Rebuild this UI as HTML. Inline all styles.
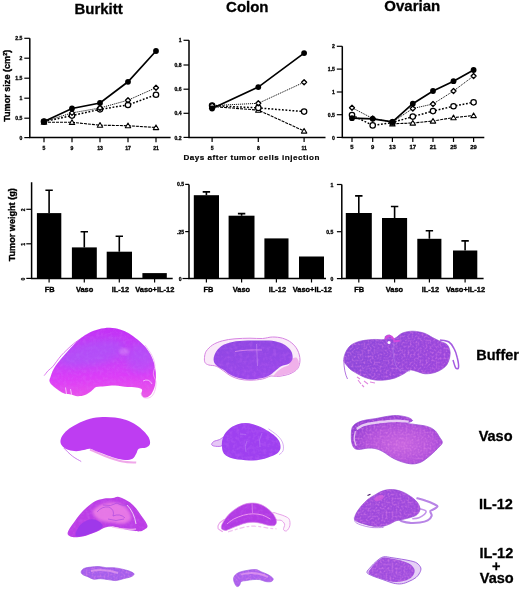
<!DOCTYPE html>
<html><head><meta charset="utf-8"><title>Figure</title>
<style>
html,body{margin:0;padding:0;background:#fff;}
body{width:520px;height:592px;overflow:hidden;position:relative;font-family:"Liberation Sans",sans-serif;}
svg{position:absolute;left:0;top:0;}
text{font-family:"Liberation Sans",sans-serif;font-weight:bold;fill:#000;}
.t{font-size:15px;stroke:#000;stroke-width:0.3px;}
.r{font-size:14.5px;stroke:#000;stroke-width:0.3px;}
.k{font-size:5.1px;stroke:#000;stroke-width:0.3px;}
.b{font-size:7.45px;stroke:#000;stroke-width:0.35px;}
.yl{font-size:9.1px;stroke:#000;stroke-width:0.35px;}
.ax{stroke:#000;stroke-width:1.5;fill:none;}
.tk{stroke:#000;stroke-width:1.2;fill:none;}
</style></head><body>
<svg width="520" height="592" viewBox="0 0 520 592">
<defs>
<filter id="bl" x="-10%" y="-10%" width="120%" height="120%"><feGaussianBlur stdDeviation="0.7"/></filter>
<filter id="bl2" x="-10%" y="-10%" width="120%" height="120%"><feGaussianBlur stdDeviation="1.6"/></filter>
<filter id="tb" x="-5%" y="-5%" width="110%" height="110%"><feGaussianBlur stdDeviation="0.35"/></filter>
</defs>
<rect width="520" height="592" fill="#fff"/>

<g filter="url(#tb)">
<text class="t" x="98.6" y="13.6" text-anchor="middle">Burkitt</text>
<text class="t" x="247.3" y="11.6" text-anchor="middle">Colon</text>
<text class="t" x="412.3" y="11" text-anchor="middle">Ovarian</text>
<path class="ax" d="M29.8 38.3V137.6H170.6"/>
<path class="tk" d="M29.8 38.3h-5.5"/>
<text class="k" x="22.4" y="40.4" text-anchor="end">2.5</text>
<path class="tk" d="M29.8 58.2h-5.5"/>
<text class="k" x="22.4" y="60.3" text-anchor="end">2</text>
<path class="tk" d="M29.8 78.2h-5.5"/>
<text class="k" x="22.4" y="80.3" text-anchor="end">1.5</text>
<path class="tk" d="M29.8 98.2h-5.5"/>
<text class="k" x="22.4" y="100.3" text-anchor="end">1</text>
<path class="tk" d="M29.8 118.2h-5.5"/>
<text class="k" x="22.4" y="120.3" text-anchor="end">0.5</text>
<path class="tk" d="M29.8 137.6h-5.5"/>
<text class="k" x="22.4" y="139.7" text-anchor="end">0</text>
<path class="tk" d="M44.0 137.6v4.6"/>
<text class="k" x="44.0" y="149.9" text-anchor="middle" style="font-size:5.1px">5</text>
<path class="tk" d="M72.0 137.6v4.6"/>
<text class="k" x="72.0" y="149.9" text-anchor="middle" style="font-size:5.1px">9</text>
<path class="tk" d="M100.0 137.6v4.6"/>
<text class="k" x="100.0" y="149.9" text-anchor="middle" style="font-size:5.1px">13</text>
<path class="tk" d="M128.0 137.6v4.6"/>
<text class="k" x="128.0" y="149.9" text-anchor="middle" style="font-size:5.1px">17</text>
<path class="tk" d="M156.0 137.6v4.6"/>
<text class="k" x="156.0" y="149.9" text-anchor="middle" style="font-size:5.1px">21</text>
<path d="M44.0 122.2L72.0 122.3L100.0 125.2L128.0 125.7L156.0 127.5" fill="none" stroke="#000" stroke-width="1.1" stroke-dasharray="3 1"/>
<path d="M44.0 121.6L72.0 115.6L100.0 109.3L128.0 105.0L156.0 94.7" fill="none" stroke="#000" stroke-width="1.5" stroke-dasharray="1.8 1.7"/>
<path d="M44.0 121.6L72.0 112.9L100.0 108.0L128.0 100.2L156.0 87.7" fill="none" stroke="#000" stroke-width="0.95" stroke-dasharray="1.1 0.9"/>
<path d="M44.0 121.6L72.0 108.5L100.0 103.0L128.0 81.8L156.0 51.0" fill="none" stroke="#000" stroke-width="1.7"/>
<path d="M44.0 119.6L46.7 124.3L41.3 124.3Z" fill="#fff" stroke="#000" stroke-width="1.1" stroke-linejoin="round"/>
<path d="M72.0 119.7L74.7 124.4L69.3 124.4Z" fill="#fff" stroke="#000" stroke-width="1.1" stroke-linejoin="round"/>
<path d="M100.0 122.6L102.7 127.3L97.3 127.3Z" fill="#fff" stroke="#000" stroke-width="1.1" stroke-linejoin="round"/>
<path d="M128.0 123.1L130.7 127.8L125.3 127.8Z" fill="#fff" stroke="#000" stroke-width="1.1" stroke-linejoin="round"/>
<path d="M156.0 124.9L158.7 129.6L153.3 129.6Z" fill="#fff" stroke="#000" stroke-width="1.1" stroke-linejoin="round"/>
<circle cx="44.0" cy="121.6" r="2.7" fill="#fff" stroke="#000" stroke-width="1.25"/>
<circle cx="72.0" cy="115.6" r="2.7" fill="#fff" stroke="#000" stroke-width="1.25"/>
<circle cx="100.0" cy="109.3" r="2.7" fill="#fff" stroke="#000" stroke-width="1.25"/>
<circle cx="128.0" cy="105.0" r="2.7" fill="#fff" stroke="#000" stroke-width="1.25"/>
<circle cx="156.0" cy="94.7" r="2.7" fill="#fff" stroke="#000" stroke-width="1.25"/>
<path d="M44.0 119.1L46.5 121.6L44.0 124.1L41.5 121.6Z" fill="#fff" stroke="#000" stroke-width="1.3" stroke-linejoin="round"/>
<path d="M72.0 110.4L74.5 112.9L72.0 115.4L69.5 112.9Z" fill="#fff" stroke="#000" stroke-width="1.3" stroke-linejoin="round"/>
<path d="M100.0 105.5L102.5 108.0L100.0 110.5L97.5 108.0Z" fill="#fff" stroke="#000" stroke-width="1.3" stroke-linejoin="round"/>
<path d="M128.0 97.7L130.5 100.2L128.0 102.7L125.5 100.2Z" fill="#fff" stroke="#000" stroke-width="1.3" stroke-linejoin="round"/>
<path d="M156.0 85.2L158.5 87.7L156.0 90.2L153.5 87.7Z" fill="#fff" stroke="#000" stroke-width="1.3" stroke-linejoin="round"/>
<circle cx="44.0" cy="121.6" r="2.9" fill="#000"/>
<circle cx="72.0" cy="108.5" r="2.9" fill="#000"/>
<circle cx="100.0" cy="103.0" r="2.9" fill="#000"/>
<circle cx="128.0" cy="81.8" r="2.9" fill="#000"/>
<circle cx="156.0" cy="51.0" r="2.9" fill="#000"/>
<text transform="translate(10,85.8) rotate(-90)" text-anchor="middle" class="yl">Tumor size (cm<tspan dy="-3" style="font-size:5.5px">2</tspan><tspan dy="3">)</tspan></text>
<path class="ax" d="M189.0 40.3V137.4H325.5"/>
<path class="tk" d="M189.0 40.3h-5.5"/>
<text class="k" x="181.6" y="42.4" text-anchor="end">1</text>
<path class="tk" d="M189.0 65.0h-5.5"/>
<text class="k" x="181.6" y="67.1" text-anchor="end">0.8</text>
<path class="tk" d="M189.0 89.2h-5.5"/>
<text class="k" x="181.6" y="91.3" text-anchor="end">0.6</text>
<path class="tk" d="M189.0 113.3h-5.5"/>
<text class="k" x="181.6" y="115.4" text-anchor="end">0.4</text>
<path class="tk" d="M189.0 137.4h-5.5"/>
<text class="k" x="181.6" y="139.5" text-anchor="end">0.2</text>
<path class="tk" d="M212.1 137.4v4.6"/>
<text class="k" x="212.1" y="149.7" text-anchor="middle" style="font-size:5.1px">5</text>
<path class="tk" d="M258.3 137.4v4.6"/>
<text class="k" x="258.3" y="149.7" text-anchor="middle" style="font-size:5.1px">8</text>
<path class="tk" d="M304.1 137.4v4.6"/>
<text class="k" x="304.1" y="149.7" text-anchor="middle" style="font-size:5.1px">11</text>
<path d="M212.1 106.5L258.3 110.1L304.1 131.0" fill="none" stroke="#000" stroke-width="1.1" stroke-dasharray="3 1"/>
<path d="M212.1 105.6L258.3 107.9L304.1 111.6" fill="none" stroke="#000" stroke-width="1.5" stroke-dasharray="1.8 1.7"/>
<path d="M212.1 105.6L258.3 103.3L304.1 82.2" fill="none" stroke="#000" stroke-width="0.95" stroke-dasharray="1.1 0.9"/>
<path d="M212.1 108.5L258.3 87.1L304.1 53.1" fill="none" stroke="#000" stroke-width="1.7"/>
<path d="M212.1 103.9L214.8 108.6L209.4 108.6Z" fill="#fff" stroke="#000" stroke-width="1.1" stroke-linejoin="round"/>
<path d="M258.3 107.5L261.0 112.2L255.6 112.2Z" fill="#fff" stroke="#000" stroke-width="1.1" stroke-linejoin="round"/>
<path d="M304.1 128.4L306.8 133.1L301.4 133.1Z" fill="#fff" stroke="#000" stroke-width="1.1" stroke-linejoin="round"/>
<circle cx="212.1" cy="105.6" r="2.7" fill="#fff" stroke="#000" stroke-width="1.25"/>
<circle cx="258.3" cy="107.9" r="2.7" fill="#fff" stroke="#000" stroke-width="1.25"/>
<circle cx="304.1" cy="111.6" r="2.7" fill="#fff" stroke="#000" stroke-width="1.25"/>
<path d="M212.1 103.1L214.6 105.6L212.1 108.1L209.6 105.6Z" fill="#fff" stroke="#000" stroke-width="1.3" stroke-linejoin="round"/>
<path d="M258.3 100.8L260.8 103.3L258.3 105.8L255.8 103.3Z" fill="#fff" stroke="#000" stroke-width="1.3" stroke-linejoin="round"/>
<path d="M304.1 79.7L306.6 82.2L304.1 84.7L301.6 82.2Z" fill="#fff" stroke="#000" stroke-width="1.3" stroke-linejoin="round"/>
<circle cx="212.1" cy="108.5" r="2.9" fill="#000"/>
<circle cx="258.3" cy="87.1" r="2.9" fill="#000"/>
<circle cx="304.1" cy="53.1" r="2.9" fill="#000"/>
<text x="183.4" y="159.7" textLength="136" lengthAdjust="spacing" style="font-size:8.1px;stroke:#000;stroke-width:0.2px">Days after tumor cells injection</text>
<path class="ax" d="M342.3 46.3V137.4H484.3"/>
<path class="tk" d="M342.3 46.3h-5.5"/>
<text class="k" x="334.9" y="48.4" text-anchor="end">2</text>
<path class="tk" d="M342.3 69.1h-5.5"/>
<text class="k" x="334.9" y="71.2" text-anchor="end">1.5</text>
<path class="tk" d="M342.3 92.0h-5.5"/>
<text class="k" x="334.9" y="94.1" text-anchor="end">1</text>
<path class="tk" d="M342.3 114.7h-5.5"/>
<text class="k" x="334.9" y="116.8" text-anchor="end">0.5</text>
<path class="tk" d="M342.3 137.4h-5.5"/>
<text class="k" x="334.9" y="139.5" text-anchor="end">0</text>
<path class="tk" d="M352.0 137.4v4.6"/>
<text class="k" x="352.0" y="149.3" text-anchor="middle" style="font-size:5.9px">5</text>
<path class="tk" d="M372.7 137.4v4.6"/>
<text class="k" x="372.7" y="149.3" text-anchor="middle" style="font-size:5.9px">9</text>
<path class="tk" d="M392.4 137.4v4.6"/>
<text class="k" x="392.4" y="149.3" text-anchor="middle" style="font-size:5.9px">13</text>
<path class="tk" d="M412.8 137.4v4.6"/>
<text class="k" x="412.8" y="149.3" text-anchor="middle" style="font-size:5.9px">17</text>
<path class="tk" d="M433.0 137.4v4.6"/>
<text class="k" x="433.0" y="149.3" text-anchor="middle" style="font-size:5.9px">21</text>
<path class="tk" d="M453.5 137.4v4.6"/>
<text class="k" x="453.5" y="149.3" text-anchor="middle" style="font-size:5.9px">25</text>
<path class="tk" d="M473.6 137.4v4.6"/>
<text class="k" x="473.6" y="149.3" text-anchor="middle" style="font-size:5.9px">29</text>
<path d="M392.4 123.8L412.8 123.0L433.0 121.0L453.5 117.6L473.6 115.5" fill="none" stroke="#000" stroke-width="1.1" stroke-dasharray="3 1"/>
<path d="M352.0 115.1L372.7 125.4L392.4 122.5L412.8 116.6L433.0 111.1L453.5 106.2L473.6 102.3" fill="none" stroke="#000" stroke-width="1.5" stroke-dasharray="1.8 1.7"/>
<path d="M352.0 107.7L372.7 118.5L392.4 122.0L412.8 108.5L433.0 104.0L453.5 91.0L473.6 76.0" fill="none" stroke="#000" stroke-width="0.95" stroke-dasharray="1.1 0.9"/>
<path d="M352.0 118.2L372.7 118.8L392.4 121.8L412.8 103.7L433.0 91.0L453.5 81.2L473.6 70.0" fill="none" stroke="#000" stroke-width="1.7"/>
<path d="M392.4 121.2L395.1 125.9L389.7 125.9Z" fill="#fff" stroke="#000" stroke-width="1.1" stroke-linejoin="round"/>
<path d="M412.8 120.4L415.5 125.1L410.1 125.1Z" fill="#fff" stroke="#000" stroke-width="1.1" stroke-linejoin="round"/>
<path d="M433.0 118.4L435.7 123.1L430.3 123.1Z" fill="#fff" stroke="#000" stroke-width="1.1" stroke-linejoin="round"/>
<path d="M453.5 115.0L456.2 119.7L450.8 119.7Z" fill="#fff" stroke="#000" stroke-width="1.1" stroke-linejoin="round"/>
<path d="M473.6 112.9L476.3 117.6L470.9 117.6Z" fill="#fff" stroke="#000" stroke-width="1.1" stroke-linejoin="round"/>
<circle cx="352.0" cy="115.1" r="2.7" fill="#fff" stroke="#000" stroke-width="1.25"/>
<circle cx="372.7" cy="125.4" r="2.7" fill="#fff" stroke="#000" stroke-width="1.25"/>
<circle cx="392.4" cy="122.5" r="2.7" fill="#fff" stroke="#000" stroke-width="1.25"/>
<circle cx="412.8" cy="116.6" r="2.7" fill="#fff" stroke="#000" stroke-width="1.25"/>
<circle cx="433.0" cy="111.1" r="2.7" fill="#fff" stroke="#000" stroke-width="1.25"/>
<circle cx="453.5" cy="106.2" r="2.7" fill="#fff" stroke="#000" stroke-width="1.25"/>
<circle cx="473.6" cy="102.3" r="2.7" fill="#fff" stroke="#000" stroke-width="1.25"/>
<path d="M352.0 105.2L354.5 107.7L352.0 110.2L349.5 107.7Z" fill="#fff" stroke="#000" stroke-width="1.3" stroke-linejoin="round"/>
<path d="M372.7 116.0L375.2 118.5L372.7 121.0L370.2 118.5Z" fill="#fff" stroke="#000" stroke-width="1.3" stroke-linejoin="round"/>
<path d="M392.4 119.5L394.9 122.0L392.4 124.5L389.9 122.0Z" fill="#fff" stroke="#000" stroke-width="1.3" stroke-linejoin="round"/>
<path d="M412.8 106.0L415.3 108.5L412.8 111.0L410.3 108.5Z" fill="#fff" stroke="#000" stroke-width="1.3" stroke-linejoin="round"/>
<path d="M433.0 101.5L435.5 104.0L433.0 106.5L430.5 104.0Z" fill="#fff" stroke="#000" stroke-width="1.3" stroke-linejoin="round"/>
<path d="M453.5 88.5L456.0 91.0L453.5 93.5L451.0 91.0Z" fill="#fff" stroke="#000" stroke-width="1.3" stroke-linejoin="round"/>
<path d="M473.6 73.5L476.1 76.0L473.6 78.5L471.1 76.0Z" fill="#fff" stroke="#000" stroke-width="1.3" stroke-linejoin="round"/>
<circle cx="352.0" cy="118.2" r="2.9" fill="#000"/>
<circle cx="372.7" cy="118.8" r="2.9" fill="#000"/>
<circle cx="392.4" cy="121.8" r="2.9" fill="#000"/>
<circle cx="412.8" cy="103.7" r="2.9" fill="#000"/>
<circle cx="433.0" cy="91.0" r="2.9" fill="#000"/>
<circle cx="453.5" cy="81.2" r="2.9" fill="#000"/>
<circle cx="473.6" cy="70.0" r="2.9" fill="#000"/>
<rect x="36.9" y="213.1" width="24.4" height="65.3" fill="#000"/>
<path d="M49.1 213.1V189.8M45.4 190.2h7.4" stroke="#000" stroke-width="1.6" fill="none"/>
<path class="tk" d="M49.1 278.4v4"/>
<rect x="71.9" y="247.4" width="24.9" height="31.0" fill="#000"/>
<path d="M84.3 247.4V231.3M80.6 231.7h7.4" stroke="#000" stroke-width="1.6" fill="none"/>
<path class="tk" d="M84.3 278.4v4"/>
<rect x="106.7" y="251.7" width="25.3" height="26.7" fill="#000"/>
<path d="M119.3 251.7V235.8M115.6 236.2h7.4" stroke="#000" stroke-width="1.6" fill="none"/>
<path class="tk" d="M119.3 278.4v4"/>
<rect x="142.4" y="273.1" width="24.4" height="5.3" fill="#000"/>
<path class="tk" d="M154.6 278.4v4"/>
<path class="ax" d="M31.6 182.3V278.4H172.7"/>
<path class="tk" d="M31.6 209.3h-5.3"/>
<text class="k" transform="translate(24.6,209.9) rotate(-90)" text-anchor="middle">2</text>
<path class="tk" d="M31.6 243.8h-5.3"/>
<text class="k" transform="translate(24.6,244.4) rotate(-90)" text-anchor="middle">1</text>
<path class="tk" d="M31.6 278.4h-5.3"/>
<text class="k" transform="translate(24.6,279.0) rotate(-90)" text-anchor="middle">0</text>
<text class="b" x="49.8" y="292.3" text-anchor="middle">FB</text>
<text class="b" x="84.6" y="292.3" text-anchor="middle">Vaso</text>
<text class="b" x="120.4" y="292.3" text-anchor="middle">IL-12</text>
<text class="b" x="154.8" y="292.3" text-anchor="middle">Vaso+IL-12</text>
<text transform="translate(15,224.8) rotate(-90)" text-anchor="middle" class="yl">Tumor weight (g)</text>
<rect x="193.8" y="195.2" width="25.2" height="83.3" fill="#000"/>
<path d="M206.4 195.2V191.5M202.7 191.9h7.4" stroke="#000" stroke-width="1.6" fill="none"/>
<path class="tk" d="M206.4 278.5v4"/>
<rect x="228.6" y="215.7" width="25.9" height="62.8" fill="#000"/>
<path d="M241.6 215.7V213.2M237.9 213.6h7.4" stroke="#000" stroke-width="1.6" fill="none"/>
<path class="tk" d="M241.6 278.5v4"/>
<rect x="264.4" y="238.4" width="24.1" height="40.1" fill="#000"/>
<path class="tk" d="M276.4 278.5v4"/>
<rect x="299.0" y="256.5" width="25.0" height="22.0" fill="#000"/>
<path class="tk" d="M311.5 278.5v4"/>
<path class="ax" d="M189.0 184.4V278.5H326.0"/>
<path class="tk" d="M189.0 184.4h-3.8"/>
<text class="k" x="184.2" y="186.4" text-anchor="end">0.5</text>
<path class="tk" d="M189.0 231.6h-3.8"/>
<text class="k" x="184.2" y="233.6" text-anchor="end">.25</text>
<text class="b" x="208.5" y="291.8" text-anchor="middle">FB</text>
<text class="b" x="241.4" y="291.8" text-anchor="middle">Vaso</text>
<text class="b" x="277.4" y="291.8" text-anchor="middle">IL-12</text>
<text class="b" x="312.3" y="291.8" text-anchor="middle">Vaso+IL-12</text>
<rect x="345.8" y="213.0" width="26.0" height="65.6" fill="#000"/>
<path d="M358.8 213.0V195.5M355.1 195.9h7.4" stroke="#000" stroke-width="1.6" fill="none"/>
<path class="tk" d="M358.8 278.6v4"/>
<rect x="382.0" y="218.0" width="25.1" height="60.6" fill="#000"/>
<path d="M394.6 218.0V206.1M390.9 206.5h7.4" stroke="#000" stroke-width="1.6" fill="none"/>
<path class="tk" d="M394.6 278.6v4"/>
<rect x="417.3" y="238.8" width="24.1" height="39.8" fill="#000"/>
<path d="M429.4 238.8V230.4M425.7 230.8h7.4" stroke="#000" stroke-width="1.6" fill="none"/>
<path class="tk" d="M429.4 278.6v4"/>
<rect x="453.0" y="250.5" width="24.3" height="28.1" fill="#000"/>
<path d="M465.1 250.5V240.5M461.4 240.9h7.4" stroke="#000" stroke-width="1.6" fill="none"/>
<path class="tk" d="M465.1 278.6v4"/>
<path class="ax" d="M341.8 184.5V278.6H483.6"/>
<path class="tk" d="M341.8 184.5h-4.9"/>
<text class="k" x="333.3" y="186.5" text-anchor="end">1</text>
<path class="tk" d="M341.8 231.7h-4.9"/>
<text class="k" x="333.3" y="233.7" text-anchor="end">0.5</text>
<path class="tk" d="M341.8 278.6h-4.9"/>
<text class="k" x="333.3" y="280.6" text-anchor="end">0</text>
<text class="b" x="359.1" y="292.2" text-anchor="middle">FB</text>
<text class="b" x="394.4" y="292.2" text-anchor="middle">Vaso</text>
<text class="b" x="430.4" y="292.2" text-anchor="middle">IL-12</text>
<text class="b" x="465.6" y="292.2" text-anchor="middle">Vaso+IL-12</text>
<path class="tk" d="M189 278.5h-6.5"/><text class="k" x="181.5" y="280.5" text-anchor="end">0</text>
<text class="r" x="497.6" y="360.1" text-anchor="middle" style="font-size:14.5px">Buffer</text>
<text class="r" x="495.6" y="440.9" text-anchor="middle">Vaso</text>
<text class="r" x="496" y="508.7" text-anchor="middle">IL-12</text>
<text class="r" x="496.3" y="557.5" text-anchor="middle">IL-12</text>
<text class="r" x="496.2" y="571.2" text-anchor="middle" style="font-size:14.5px">+</text>
<text class="r" x="496.7" y="583.3" text-anchor="middle">Vaso</text>
</g>
<defs>
<linearGradient id="g1" x1="0.4" y1="0" x2="0.5" y2="1"><stop offset="0" stop-color="#c430f6"/><stop offset="0.45" stop-color="#c840f8"/><stop offset="0.7" stop-color="#dc3cf8"/><stop offset="1" stop-color="#ea54e8"/></linearGradient>
<filter id="bl5" x="-30%" y="-50%" width="160%" height="200%"><feGaussianBlur stdDeviation="4"/></filter>
<linearGradient id="g2" x1="0" y1="0" x2="0.2" y2="1"><stop offset="0" stop-color="#8e46e2"/><stop offset="1" stop-color="#9a46ea"/></linearGradient>
<linearGradient id="g3" x1="0" y1="0" x2="1" y2="0.2"><stop offset="0" stop-color="#8c48da"/><stop offset="1" stop-color="#9a46dc"/></linearGradient>
<linearGradient id="g7" x1="0.1" y1="1" x2="0.7" y2="0"><stop offset="0" stop-color="#a83cea"/><stop offset="0.35" stop-color="#c050e8"/><stop offset="0.7" stop-color="#d870e6"/><stop offset="1" stop-color="#c860e6"/></linearGradient>
<filter id="tx" x="-5%" y="-5%" width="110%" height="110%" color-interpolation-filters="sRGB"><feTurbulence type="fractalNoise" baseFrequency="0.5" numOctaves="2" seed="4" result="n"/><feColorMatrix in="n" type="matrix" values="0 0 0 0 0.92  0 0 0 0 0.55  0 0 0 0 0.92  0 0 0 1.2 -0.5" result="pn0"/><feGaussianBlur in="pn0" stdDeviation="0.5" result="pn"/><feComposite in="pn" in2="SourceGraphic" operator="in" result="pni"/><feMerge><feMergeNode in="SourceGraphic"/><feMergeNode in="pni"/></feMerge></filter>
<filter id="tx2" x="-5%" y="-5%" width="110%" height="110%" color-interpolation-filters="sRGB"><feTurbulence type="fractalNoise" baseFrequency="0.3" numOctaves="2" seed="9" result="n"/><feColorMatrix in="n" type="matrix" values="0 0 0 0 0.85  0 0 0 0 0.5  0 0 0 0 0.98  0 0 0 0.5 -0.2" result="pn"/><feGaussianBlur in="pn" stdDeviation="0.5" result="pnb"/><feComposite in="pnb" in2="SourceGraphic" operator="in" result="pni"/><feMerge><feMergeNode in="SourceGraphic"/><feMergeNode in="pni"/></feMerge></filter>
</defs>
<clipPath id="c1"><path d="M50.5 377.0C51.2 374.9 52.0 371.8 53.8 368.8C55.5 365.7 58.5 362.1 61.2 358.8C64.0 355.4 67.1 351.9 70.0 348.8C72.9 345.6 75.6 342.6 78.8 340.0C81.9 337.4 85.4 334.8 88.8 333.0C92.1 331.2 95.2 330.1 98.8 329.2C102.3 328.4 106.5 327.7 110.0 327.8C113.5 327.8 116.9 328.6 120.0 329.5C123.1 330.4 125.8 331.6 128.8 333.2C131.7 334.9 134.8 337.3 137.5 339.5C140.2 341.7 142.8 344.0 145.0 346.5C147.2 349.0 149.0 351.8 150.5 354.5C152.0 357.2 153.1 360.0 154.0 363.0C154.9 366.0 155.5 369.5 155.8 372.5C156.0 375.5 156.0 378.5 155.8 381.2C155.5 384.0 154.9 386.5 154.0 388.8C153.1 391.0 152.0 393.5 150.5 395.0C149.0 396.5 146.5 397.8 145.0 397.8C143.5 397.7 141.8 395.9 141.2 394.5C140.8 393.1 142.8 390.7 142.0 389.5C141.2 388.3 138.7 387.9 136.2 387.5C133.8 387.1 131.0 387.3 127.5 387.0C124.0 386.7 118.8 385.6 115.0 385.5C111.2 385.4 108.1 386.0 105.0 386.2C101.9 386.5 98.5 386.2 96.2 387.0C94.0 387.8 93.1 389.9 91.2 391.2C89.4 392.6 87.3 394.2 85.0 395.0C82.7 395.8 79.8 396.3 77.5 396.2C75.2 396.2 73.3 394.9 71.2 394.5C69.2 394.1 67.1 394.4 65.0 393.8C62.9 393.1 60.8 391.9 58.8 390.5C56.7 389.1 54.0 387.0 52.5 385.5C51.0 384.0 49.8 382.7 49.5 381.2C49.2 379.8 49.8 379.1 50.5 377.0Z"/></clipPath>
<g filter="url(#bl)">
<path d="M44.2 375.6C44.9 374.8 46.7 372.2 48.1 370.7C49.5 369.2 51.3 368.2 52.8 366.6C54.2 365.0 55.3 363.1 56.8 361.2C58.2 359.3 59.8 357.1 61.5 355.2C63.2 353.3 64.9 351.7 66.9 349.8C68.9 347.9 71.3 345.5 73.6 343.7C75.8 341.9 78.3 340.2 80.4 338.8C82.5 337.4 85.1 335.6 86.0 335.0" fill="none" stroke="#d868ee" stroke-width="0.9"/>
<g filter="url(#tx2)"><path d="M50.5 377.0C51.2 374.9 52.0 371.8 53.8 368.8C55.5 365.7 58.5 362.1 61.2 358.8C64.0 355.4 67.1 351.9 70.0 348.8C72.9 345.6 75.6 342.6 78.8 340.0C81.9 337.4 85.4 334.8 88.8 333.0C92.1 331.2 95.2 330.1 98.8 329.2C102.3 328.4 106.5 327.7 110.0 327.8C113.5 327.8 116.9 328.6 120.0 329.5C123.1 330.4 125.8 331.6 128.8 333.2C131.7 334.9 134.8 337.3 137.5 339.5C140.2 341.7 142.8 344.0 145.0 346.5C147.2 349.0 149.0 351.8 150.5 354.5C152.0 357.2 153.1 360.0 154.0 363.0C154.9 366.0 155.5 369.5 155.8 372.5C156.0 375.5 156.0 378.5 155.8 381.2C155.5 384.0 154.9 386.5 154.0 388.8C153.1 391.0 152.0 393.5 150.5 395.0C149.0 396.5 146.5 397.8 145.0 397.8C143.5 397.7 141.8 395.9 141.2 394.5C140.8 393.1 142.8 390.7 142.0 389.5C141.2 388.3 138.7 387.9 136.2 387.5C133.8 387.1 131.0 387.3 127.5 387.0C124.0 386.7 118.8 385.6 115.0 385.5C111.2 385.4 108.1 386.0 105.0 386.2C101.9 386.5 98.5 386.2 96.2 387.0C94.0 387.8 93.1 389.9 91.2 391.2C89.4 392.6 87.3 394.2 85.0 395.0C82.7 395.8 79.8 396.3 77.5 396.2C75.2 396.2 73.3 394.9 71.2 394.5C69.2 394.1 67.1 394.4 65.0 393.8C62.9 393.1 60.8 391.9 58.8 390.5C56.7 389.1 54.0 387.0 52.5 385.5C51.0 384.0 49.8 382.7 49.5 381.2C49.2 379.8 49.8 379.1 50.5 377.0Z" fill="url(#g1)"/></g>
<g clip-path="url(#c1)"><ellipse cx="92" cy="353" rx="34" ry="12" transform="rotate(-12 92 353)" fill="#a060f8" opacity="0.5" filter="url(#bl5)"/>
<ellipse cx="141" cy="358" rx="15" ry="15" fill="#a060f8" opacity="0.42" filter="url(#bl5)"/>
<ellipse cx="124" cy="351.5" rx="5" ry="3.5" fill="#f0c0fa" opacity="0.3" filter="url(#bl2)"/></g>
<path d="M65.5 387.5L66.5 394M70.5 389L71.5 394.5" stroke="#fff" stroke-width="0.8" opacity="0.8"/>
<path d="M145.1 345.1C146.2 346.8 150.2 351.8 151.8 355.2C153.5 358.6 154.7 362.1 154.9 365.3C155.2 368.4 153.1 371.2 153.3 374.0C153.5 376.8 155.8 379.2 156.0 382.1C156.2 385.0 155.6 389.0 154.6 391.5C153.7 394.1 152.0 396.5 150.1 397.4C148.2 398.4 144.8 398.2 143.3 397.4C141.8 396.7 141.4 393.9 141.0 393.1" stroke="#f0b0f0" stroke-width="0.8" fill="none" opacity="0.9"/>
<path d="M143 381Q149 378 152 384" stroke="#fff" stroke-width="0.8" opacity="0.7" fill="none"/>
</g>
<g filter="url(#bl)">
<path d="M204.5 357.5C204.7 355.6 204.9 353.3 206.2 351.2C207.6 349.2 209.8 346.8 212.5 345.0C215.2 343.2 218.8 341.8 222.5 340.8C226.2 339.7 230.4 339.2 235.0 338.8C239.6 338.3 245.4 338.3 250.0 338.2C254.6 338.2 258.8 338.7 262.5 338.5C266.2 338.3 269.2 337.0 272.5 337.0C275.8 337.0 279.4 337.3 282.5 338.2C285.6 339.2 288.8 340.5 291.2 342.5C293.8 344.5 296.0 347.1 297.5 350.0C299.0 352.9 300.0 356.9 300.0 360.0C300.0 363.1 299.2 366.5 297.5 368.8C295.8 371.0 292.9 372.5 290.0 373.8C287.1 375.0 282.7 375.8 280.0 376.2C277.3 376.7 275.4 376.2 273.8 376.2C272.1 376.2 271.9 375.8 270.0 376.2C268.1 376.7 265.8 378.3 262.5 379.0C259.2 379.7 254.0 380.2 250.0 380.2C246.0 380.2 242.1 379.8 238.8 379.0C235.4 378.2 232.5 376.8 230.0 375.5C227.5 374.2 226.0 372.5 223.8 371.0C221.5 369.5 218.8 367.2 216.2 366.2C213.8 365.2 210.6 365.6 208.8 365.0C206.9 364.4 205.7 363.8 205.0 362.5C204.3 361.2 204.3 359.4 204.5 357.5Z" fill="#faeaf9" stroke="#d684e2" stroke-width="1"/>
<path d="M290.0 360.0C291.2 358.8 294.8 356.9 296.2 357.5C297.8 358.1 299.0 361.7 299.0 363.8C299.0 365.8 298.0 368.4 296.2 370.0C294.5 371.6 291.7 372.5 288.8 373.5C285.8 374.5 281.2 375.6 278.8 376.0C276.2 376.4 274.0 376.8 273.8 376.0C273.5 375.2 276.0 372.7 277.5 371.2C279.0 369.8 281.1 368.5 283.0 367.5C284.9 366.5 287.6 366.2 288.8 365.0C289.9 363.8 288.8 361.2 290.0 360.0Z" fill="#f0b0ea"/>
<g filter="url(#tx2)"><path d="M213.8 361.2C213.3 359.2 213.8 356.2 215.0 353.8C216.2 351.2 218.3 348.2 221.2 346.2C224.2 344.3 228.1 342.9 232.5 342.0C236.9 341.1 242.5 340.9 247.5 340.6C252.5 340.4 257.9 340.5 262.5 340.6C267.1 340.7 271.2 340.5 275.0 341.2C278.8 342.0 282.3 343.3 285.0 345.0C287.7 346.7 290.0 349.0 291.2 351.2C292.5 353.5 292.9 356.7 292.5 358.8C292.1 360.8 290.6 362.5 288.8 363.8C286.9 365.0 283.3 365.2 281.2 366.2C279.2 367.3 278.1 368.5 276.2 370.0C274.4 371.5 272.3 373.7 270.0 375.0C267.7 376.3 265.8 377.2 262.5 378.0C259.2 378.8 254.0 379.5 250.0 379.5C246.0 379.5 242.1 378.8 238.8 378.0C235.4 377.2 232.5 375.8 230.0 374.5C227.5 373.2 225.8 371.4 223.8 370.0C221.7 368.6 219.2 367.7 217.5 366.2C215.8 364.8 214.2 363.3 213.8 361.2Z" fill="url(#g2)"/></g>
<path d="M235 351.5Q246 349.5 262 350" stroke="#e090ee" stroke-width="0.8" fill="none"/>
<path d="M256.5 344L257.5 366" stroke="#c88cf0" stroke-width="0.6" fill="none"/>
</g>
<g filter="url(#bl)">
<path d="M343.8 360Q344 372 347.5 379" stroke="#a050d8" stroke-width="0.8" fill="none"/>
<path d="M440.0 340.0C441.5 340.3 446.6 340.5 449.0 342.0C451.4 343.5 452.9 346.2 454.2 348.8C455.6 351.3 456.5 354.4 457.2 357.5C458.0 360.6 458.8 365.8 458.5 367.5C458.2 369.2 456.7 369.2 455.8 368.0C454.8 366.8 453.5 361.3 453.0 360.0" stroke="#a45ae0" stroke-width="1.5" fill="none"/>
<g filter="url(#tx)"><path d="M343.8 360.0C343.5 357.5 345.0 353.8 346.2 351.2C347.5 348.8 349.0 346.7 351.2 345.0C353.5 343.3 356.5 342.2 360.0 341.2C363.5 340.3 368.5 339.8 372.5 339.5C376.5 339.2 381.6 340.0 383.8 339.5C385.9 339.0 384.5 337.0 385.5 336.2C386.5 335.5 388.8 334.6 390.0 335.0C391.2 335.4 391.5 338.3 392.5 338.8C393.5 339.2 394.6 338.5 396.2 337.5C397.9 336.5 399.8 334.0 402.5 333.0C405.2 332.0 409.0 331.2 412.5 331.2C416.0 331.2 420.4 332.0 423.8 333.0C427.1 334.0 429.8 336.1 432.5 337.5C435.2 338.9 437.6 340.1 440.0 341.2C442.4 342.4 445.3 342.8 447.0 344.5C448.7 346.2 449.6 349.0 450.0 351.2C450.4 353.5 450.0 355.8 449.5 358.0C449.0 360.2 448.2 362.7 447.0 364.5C445.8 366.3 444.5 367.4 442.5 368.8C440.5 370.1 437.9 371.7 435.0 372.5C432.1 373.3 428.1 374.0 425.0 373.8C421.9 373.5 418.8 371.9 416.2 371.2C413.8 370.6 412.1 369.6 410.0 370.0C407.9 370.4 406.2 372.4 403.8 373.8C401.2 375.1 398.1 377.0 395.0 378.0C391.9 379.0 388.3 379.7 385.0 380.0C381.7 380.3 378.3 380.4 375.0 380.0C371.7 379.6 367.9 378.5 365.0 377.5C362.1 376.5 359.8 375.0 357.5 373.8C355.2 372.5 352.9 371.2 351.2 370.0C349.6 368.8 348.8 367.9 347.5 366.2C346.2 364.6 344.0 362.5 343.8 360.0Z" fill="url(#g3)" stroke="#8a40cc" stroke-width="0.6"/></g>
<path d="M394.5 340Q391 352 396 366Q400 372 410 371" stroke="#b478e8" stroke-width="0.8" fill="none" opacity="0.8"/>
<path d="M385.8 338.5Q388 334.5 391.5 336.5Q394 339 394.5 341.5L399 340.8" stroke="#d448de" stroke-width="1.9" fill="none" stroke-linecap="round"/>
<circle cx="389" cy="342.5" r="1.5" fill="#fff"/>
<path d="M358 380l3 4m3 -3l4 3m-6 1l2 2m6 -5l5 1m-15 -4l-3 -2" stroke="#e088e0" stroke-width="1.1" fill="none"/>
</g>
<g filter="url(#bl)">
<path d="M90.0 449.5C92.5 450.6 99.6 454.0 105.0 456.0C110.4 458.0 117.3 460.4 122.5 461.5C127.7 462.6 134.0 462.3 136.2 462.5" fill="none" stroke="#f0a8ea" stroke-width="2"/>
<path d="M63.8 448.0C65.2 449.4 69.6 454.0 72.5 456.2C75.4 458.5 79.8 460.6 81.2 461.5" fill="none" stroke="#c060e8" stroke-width="0.8"/>
<path d="M60.5 442.5C60.2 440.6 60.8 438.3 62.0 436.2C63.2 434.2 64.9 432.1 67.5 430.0C70.1 427.9 73.8 425.6 77.5 423.8C81.2 421.9 85.8 419.9 90.0 418.8C94.2 417.6 98.3 417.2 102.5 417.0C106.7 416.8 111.0 417.0 115.0 417.5C119.0 418.0 122.7 418.8 126.2 420.0C129.8 421.2 133.3 423.1 136.2 425.0C139.2 426.9 141.7 429.2 143.8 431.2C145.8 433.3 147.7 435.4 148.8 437.5C149.8 439.6 150.4 442.1 150.0 443.8C149.6 445.4 148.1 446.7 146.2 447.5C144.4 448.3 140.4 447.7 138.8 448.8C137.1 449.8 137.3 452.1 136.2 453.8C135.2 455.4 134.4 457.7 132.5 458.8C130.6 459.8 127.9 460.1 125.0 460.0C122.1 459.9 118.3 458.9 115.0 458.0C111.7 457.1 108.1 455.6 105.0 454.5C101.9 453.4 98.8 452.2 96.2 451.2C93.8 450.3 92.1 449.0 90.0 448.8C87.9 448.5 86.0 449.6 83.8 450.0C81.5 450.4 78.8 451.2 76.2 451.2C73.8 451.2 70.8 450.6 68.8 450.0C66.7 449.4 65.1 448.8 63.8 447.5C62.4 446.2 60.8 444.4 60.5 442.5Z" fill="#be3ef2"/>
</g>
<g filter="url(#bl)">
<path d="M224.2 437.1C223.8 436.2 221.2 438.9 219.4 439.6C217.7 440.4 214.9 440.7 213.7 441.5C212.4 442.4 211.4 444.0 211.7 444.8C212.1 445.6 213.8 446.2 215.6 446.3C217.3 446.4 220.9 446.9 222.3 445.4C223.8 443.8 224.7 438.1 224.2 437.1Z" fill="#e6c8f6" stroke="#b868ea" stroke-width="0.9"/>
<path d="M268.5 428.8C270.0 430.0 275.3 433.4 277.7 435.8C280.1 438.1 281.8 440.4 282.7 442.9C283.6 445.4 283.7 448.6 283.1 450.6C282.5 452.6 279.7 454.1 279.0 454.8" fill="none" stroke="#c88cee" stroke-width="0.7"/>
<g filter="url(#tx2)"><path d="M221.9 446.7C221.8 444.6 221.8 442.2 222.3 440.0C222.9 437.8 223.8 435.4 225.2 433.3C226.6 431.2 228.9 429.0 231.0 427.5C233.0 426.0 235.3 425.0 237.7 424.2C240.1 423.5 242.8 423.1 245.4 423.1C247.9 423.1 250.5 423.6 253.1 424.2C255.6 424.9 258.2 425.7 260.8 426.9C263.3 428.1 266.1 429.8 268.5 431.3C270.9 432.9 273.3 434.4 275.2 436.2C277.1 437.9 278.8 439.8 279.6 441.9C280.5 444.0 280.8 446.7 280.4 448.7C280.0 450.6 278.6 452.2 277.1 453.5C275.6 454.7 273.4 455.4 271.3 456.3C269.3 457.2 267.0 458.2 264.6 458.8C262.2 459.5 259.5 459.9 256.9 460.2C254.4 460.4 251.8 460.4 249.2 460.4C246.7 460.3 244.1 460.1 241.5 459.8C239.0 459.6 236.2 459.4 233.8 458.8C231.4 458.3 228.9 457.4 227.1 456.3C225.4 455.3 224.1 454.1 223.3 452.5C222.4 450.9 222.1 448.8 221.9 446.7Z" fill="#9e40f0"/></g>
<path d="M240 434l6 0.5M262 433Q258 440 260 447M247 441Q244 446 246 452" stroke="#c48cf4" stroke-width="0.6" fill="none" opacity="0.8"/>
</g>
<g filter="url(#bl)">
<radialGradient id="g6" cx="0.55" cy="0.6" r="0.6"><stop offset="0" stop-color="#c866e0"/><stop offset="0.6" stop-color="#b252dc"/><stop offset="1" stop-color="#9440d4"/></radialGradient>
<g filter="url(#tx)"><path d="M351.5 431.2C351.8 428.8 351.9 427.9 352.9 426.4C353.9 425.0 355.6 423.6 357.7 422.6C359.8 421.5 362.5 420.7 365.4 420.1C368.3 419.4 371.8 419.3 375.0 418.7C378.2 418.2 381.1 417.4 384.6 416.8C388.1 416.3 392.3 415.4 396.2 415.5C400.0 415.6 405.0 416.5 407.7 417.4C410.4 418.2 412.5 419.7 412.5 420.7C412.5 421.6 407.2 422.5 407.7 423.2C408.2 423.8 412.2 424.0 415.4 424.5C418.6 425.0 423.7 425.5 426.9 426.4C430.1 427.4 432.5 428.5 434.6 430.3C436.7 432.0 438.1 434.9 439.4 437.0C440.7 439.1 442.6 440.8 442.3 442.8C442.0 444.7 439.1 446.8 437.5 448.5C435.9 450.3 434.5 451.7 432.7 453.3C430.9 454.9 428.8 456.7 426.9 458.2C425.0 459.6 423.4 461.0 421.2 462.0C418.9 463.0 416.0 463.8 413.5 463.9C410.9 464.1 408.3 463.5 405.8 463.0C403.2 462.4 400.5 461.4 398.1 460.5C395.7 459.5 393.4 458.4 391.3 457.2C389.3 456.0 387.3 454.5 385.6 453.3C383.8 452.2 382.5 451.3 380.8 450.5C379.0 449.7 377.2 448.9 375.0 448.5C372.8 448.2 370.0 448.0 367.3 448.2C364.6 448.3 360.9 449.6 358.7 449.5C356.4 449.4 355.0 449.0 353.8 447.6C352.7 446.1 351.9 443.6 351.5 440.8C351.2 438.1 351.3 433.6 351.5 431.2Z" fill="url(#g6)" stroke="#8e44d0" stroke-width="0.7"/></g>
<path d="M356.7 428.9C357.9 428.3 360.7 426.1 363.5 425.1C366.2 424.1 369.6 423.5 373.1 423.0C376.6 422.4 380.8 422.0 384.6 421.6C388.5 421.3 392.1 420.8 396.2 420.8C400.2 420.8 406.6 421.5 408.7 421.6" fill="none" stroke="#f8eafa" stroke-width="2.4" opacity="0.8"/>
<path d="M355.4 431.2C355.2 432.5 354.1 436.5 354.2 438.9C354.4 441.3 355.8 444.5 356.2 445.7" fill="none" stroke="#f0d8f4" stroke-width="1.3" opacity="0.8"/>
</g>
<clipPath id="c7"><path d="M67.7 534.2C67.2 532.8 68.5 530.5 69.6 528.5C70.7 526.4 72.7 524.1 74.4 521.7C76.2 519.3 78.1 516.4 80.2 514.0C82.3 511.6 84.5 509.4 86.9 507.3C89.3 505.2 91.9 503.0 94.6 501.5C97.3 500.1 100.2 499.2 103.3 498.7C106.3 498.1 110.5 498.4 112.9 498.1C115.3 497.8 115.9 496.6 117.7 496.7C119.5 496.8 121.4 497.7 123.5 498.7C125.5 499.6 128.1 500.9 130.2 502.5C132.3 504.1 134.2 506.2 136.0 508.3C137.7 510.4 139.2 512.8 140.8 515.0C142.4 517.2 144.5 519.8 145.6 521.7C146.7 523.7 147.7 525.3 147.5 526.5C147.3 527.8 145.9 528.6 144.6 529.4C143.3 530.2 141.6 531.1 139.8 531.3C138.0 531.6 136.4 531.1 134.0 530.8C131.6 530.4 128.1 530.0 125.4 529.4C122.7 528.9 120.1 528.0 117.7 527.5C115.3 527.0 113.0 526.5 111.0 526.5C108.9 526.5 107.1 526.9 105.2 527.5C103.3 528.1 101.5 529.4 99.4 530.4C97.3 531.3 94.9 532.4 92.7 533.3C90.4 534.2 88.2 535.1 86.0 535.8C83.7 536.4 81.5 536.9 79.2 537.1C77.0 537.3 74.4 537.6 72.5 537.1C70.6 536.6 68.2 535.7 67.7 534.2Z"/></clipPath>
<g filter="url(#bl)">
<g filter="url(#tx2)"><path d="M67.7 534.2C67.2 532.8 68.5 530.5 69.6 528.5C70.7 526.4 72.7 524.1 74.4 521.7C76.2 519.3 78.1 516.4 80.2 514.0C82.3 511.6 84.5 509.4 86.9 507.3C89.3 505.2 91.9 503.0 94.6 501.5C97.3 500.1 100.2 499.2 103.3 498.7C106.3 498.1 110.5 498.4 112.9 498.1C115.3 497.8 115.9 496.6 117.7 496.7C119.5 496.8 121.4 497.7 123.5 498.7C125.5 499.6 128.1 500.9 130.2 502.5C132.3 504.1 134.2 506.2 136.0 508.3C137.7 510.4 139.2 512.8 140.8 515.0C142.4 517.2 144.5 519.8 145.6 521.7C146.7 523.7 147.7 525.3 147.5 526.5C147.3 527.8 145.9 528.6 144.6 529.4C143.3 530.2 141.6 531.1 139.8 531.3C138.0 531.6 136.4 531.1 134.0 530.8C131.6 530.4 128.1 530.0 125.4 529.4C122.7 528.9 120.1 528.0 117.7 527.5C115.3 527.0 113.0 526.5 111.0 526.5C108.9 526.5 107.1 526.9 105.2 527.5C103.3 528.1 101.5 529.4 99.4 530.4C97.3 531.3 94.9 532.4 92.7 533.3C90.4 534.2 88.2 535.1 86.0 535.8C83.7 536.4 81.5 536.9 79.2 537.1C77.0 537.3 74.4 537.6 72.5 537.1C70.6 536.6 68.2 535.7 67.7 534.2Z" fill="#bc3ee6"/></g>
<g clip-path="url(#c7)"><path d="M92.7 511.2C93.3 508.8 98.1 505.9 101.3 504.4C104.6 503.0 108.6 502.5 111.9 502.5C115.3 502.5 118.8 503.1 121.5 504.4C124.3 505.7 126.7 507.8 128.3 510.2C129.9 512.6 132.0 516.6 131.2 518.8C130.4 521.1 126.3 523.0 123.5 523.7C120.6 524.3 116.9 523.0 113.8 522.7C110.8 522.4 107.9 522.4 105.2 521.7C102.5 521.1 99.6 520.6 97.5 518.8C95.4 517.1 92.1 513.6 92.7 511.2Z" fill="#ee82e6" opacity="0.85" filter="url(#bl2)"/>
<path d="M75.4 535.4C75.1 534.0 76.3 530.6 77.7 528.5C79.0 526.3 81.1 523.8 83.5 522.3C85.8 520.8 89.1 519.3 91.7 519.2C94.4 519.1 97.6 520.5 99.4 521.7C101.2 522.9 103.2 525.0 102.7 526.5C102.2 528.1 99.2 529.8 96.5 531.2C93.9 532.5 89.7 533.9 86.9 534.8C84.1 535.7 81.5 536.4 79.6 536.5C77.7 536.6 75.7 536.7 75.4 535.4Z" fill="#9c38ea" opacity="0.9" filter="url(#bl)"/></g>
<path d="M97 512q5 -6 12 -5q6 3 4 9q7 -3 12 2M103 505q8 2 14 -2q6 4 12 1M108 519q8 3 16 0" stroke="#a848e0" stroke-width="0.9" fill="none" opacity="0.75"/>
<path d="M127 505Q134 512 136 524" stroke="#fbeefa" stroke-width="0.9" fill="none" opacity="0.9"/>
<path d="M112 527Q124 530 136 529" stroke="#f6c8f0" stroke-width="1.2" fill="none"/>
</g>
<g filter="url(#bl)">
<path d="M272.7 512.7C273.2 511.8 277.0 513.7 279.0 514.2C281.1 514.8 283.1 515.3 284.8 516.2C286.5 517.0 288.4 517.6 289.2 519.2C290.1 520.8 290.2 523.8 289.8 525.8C289.4 527.7 287.8 530.1 286.7 530.8C285.7 531.4 283.8 530.7 283.5 529.6C283.1 528.5 285.0 525.8 284.6 524.2C284.2 522.7 282.6 521.2 281.2 520.4C279.7 519.6 277.6 520.9 276.2 519.6C274.7 518.3 272.2 513.6 272.7 512.7Z" fill="#fdf4fc" stroke="#e6a0e8" stroke-width="1"/>
<path d="M224.6 519.2C223.7 519.9 220.3 521.9 219.2 523.5C218.1 525.0 217.5 527.1 218.1 528.5C218.7 529.8 221.9 531.2 222.7 531.7" fill="none" stroke="#e8a4ea" stroke-width="1.2"/>
<path d="M228.1 531.9C230.6 531.2 239.0 528.3 243.5 527.3C247.9 526.3 250.8 526.0 255.0 526.2C259.2 526.3 264.9 527.6 268.5 528.1C272.1 528.5 275.2 528.7 276.5 528.8" fill="none" stroke="#f0c4f0" stroke-width="1.2" stroke-dasharray="5 2 3 2"/>
<g filter="url(#tx2)"><path d="M221.3 526.7C221.5 525.4 222.1 523.8 223.3 521.9C224.4 520.0 226.2 517.3 228.1 515.2C230.0 513.1 232.4 511.1 234.8 509.4C237.2 507.7 239.8 506.1 242.5 505.0C245.2 503.9 248.3 503.2 251.2 503.1C254.0 502.9 257.1 503.3 259.8 504.2C262.5 505.1 265.3 506.8 267.5 508.5C269.7 510.1 271.8 512.1 273.3 514.2C274.8 516.3 276.3 519.1 276.5 521.0C276.8 522.8 276.0 524.6 274.6 525.4C273.3 526.1 270.6 525.7 268.5 525.4C266.3 525.1 264.1 524.0 261.7 523.5C259.3 522.9 256.6 522.4 254.0 522.3C251.5 522.2 248.9 522.4 246.3 522.9C243.8 523.4 241.1 524.5 238.7 525.4C236.2 526.2 234.0 527.2 231.9 528.1C229.8 528.9 227.8 530.1 226.2 530.4C224.6 530.6 223.1 530.2 222.3 529.6C221.5 529.0 221.2 528.0 221.3 526.7Z" fill="#b23ae4" stroke="#d888e6" stroke-width="0.7"/></g>
<path d="M227.1 523.8C228.2 523.0 231.1 520.5 233.8 519.0C236.6 517.6 240.3 516.1 243.5 515.2C246.7 514.3 249.9 513.8 253.1 513.8C256.3 513.8 259.8 514.3 262.7 515.2C265.6 516.1 269.1 518.4 270.4 519.0" fill="none" stroke="#f0a0ee" stroke-width="0.9"/>
<path d="M252 503.5L252.5 513" stroke="#e8a0ee" stroke-width="0.6" fill="none"/>
</g>
<g filter="url(#bl)">
<path d="M416.5 497.9C418.1 498.4 422.9 499.7 425.8 500.8C428.7 501.8 431.9 503.1 433.8 504.0C435.8 505.0 437.5 505.5 437.5 506.3C437.5 507.2 435.1 508.4 433.8 509.2C432.6 510.0 430.5 510.1 430.2 511.2C429.8 512.2 432.1 514.2 431.7 515.8C431.3 517.3 429.6 519.3 427.7 520.4C425.7 521.5 422.9 522.1 420.0 522.5C417.1 522.9 413.3 523.0 410.4 522.9C407.5 522.7 404.5 522.1 402.7 521.5C400.9 521.0 400.0 519.8 399.4 519.4" fill="none" stroke="#b884e6" stroke-width="2.1"/>
<path d="M420.0 508.8C421.0 509.2 425.1 509.8 425.8 510.8C426.5 511.7 425.4 513.5 424.2 514.6C423.1 515.8 421.0 517.0 419.0 517.7C417.1 518.4 413.4 518.7 412.3 518.8" fill="none" stroke="#c494ea" stroke-width="1.5"/>
<path d="M354.2 517.5C354.5 518.3 354.2 521.0 355.6 522.3C356.9 523.6 359.6 524.5 362.3 525.4C365.0 526.2 368.4 527.1 371.9 527.5C375.4 527.9 381.5 527.5 383.5 527.5" fill="none" stroke="#b070e2" stroke-width="0.8"/>
<g filter="url(#tx)"><path d="M354.6 518.5C354.6 517.0 355.4 514.8 356.5 512.7C357.7 510.6 359.4 508.2 361.3 506.0C363.3 503.7 365.7 501.2 368.1 499.2C370.5 497.3 373.2 495.9 375.8 494.4C378.3 493.0 380.6 491.4 383.5 490.6C386.3 489.8 389.9 489.4 393.1 489.6C396.3 489.8 399.8 490.8 402.7 491.9C405.6 493.0 408.0 494.6 410.4 496.3C412.8 498.0 415.5 500.0 417.1 502.1C418.7 504.2 420.0 506.8 420.0 508.8C420.0 510.9 418.7 513.2 417.1 514.6C415.5 516.1 412.8 516.7 410.4 517.5C408.0 518.3 405.1 518.9 402.7 519.4C400.3 520.0 398.0 520.0 396.0 520.8C393.9 521.5 392.3 522.9 390.2 523.8C388.1 524.7 385.9 525.7 383.5 526.2C381.1 526.6 378.3 526.7 375.8 526.5C373.2 526.4 370.5 525.7 368.1 525.2C365.7 524.6 363.3 523.9 361.3 523.3C359.4 522.6 357.7 522.1 356.5 521.3C355.4 520.5 354.6 519.9 354.6 518.5Z" fill="#9e4adc" stroke="#8a3ecc" stroke-width="0.6"/></g>
<ellipse cx="379" cy="498" rx="5" ry="2.6" transform="rotate(-25 379 498)" fill="#d860de" opacity="0.7"/>
<path d="M367.5 495.5l3 -1.2" stroke="#401060" stroke-width="1.1"/>
</g>
<g filter="url(#bl)">
<g filter="url(#tx)"><path d="M81.2 571.9C81.3 570.9 82.4 569.3 84.0 568.5C85.6 567.7 88.4 567.4 90.8 567.1C93.2 566.8 95.9 566.4 98.5 566.5C101.0 566.6 103.6 567.5 106.2 567.7C108.7 567.9 111.3 567.5 113.8 567.7C116.4 567.9 119.0 568.5 121.5 569.0C124.1 569.6 127.1 570.2 129.2 571.0C131.3 571.8 133.7 572.9 134.0 573.8C134.4 574.8 132.9 575.9 131.2 576.7C129.4 577.5 126.0 578.0 123.5 578.7C120.9 579.3 118.3 580.4 115.8 580.6C113.2 580.7 110.6 579.9 108.1 579.6C105.5 579.3 102.8 578.7 100.4 578.7C98.0 578.6 95.7 579.6 93.7 579.2C91.6 578.9 89.6 577.5 87.9 576.7C86.1 576.0 84.2 575.6 83.1 574.8C82.0 574.0 81.0 573.0 81.2 571.9Z" fill="#a45eec" stroke="#8e4cdc" stroke-width="0.6"/></g>
<path d="M91 571Q104 568.5 118 573" stroke="#e8a0ee" stroke-width="2" fill="none" opacity="0.7" filter="url(#bl)"/>
</g>
<g filter="url(#bl)">
<g filter="url(#tx)"><path d="M233.7 580.6C233.3 578.8 233.7 577.1 234.6 575.8C235.6 574.4 237.3 573.2 239.4 572.3C241.5 571.4 244.4 570.8 247.1 570.4C249.8 569.9 253.4 569.4 255.8 569.6C258.2 569.9 259.5 571.1 261.5 571.9C263.6 572.8 266.3 573.7 268.3 574.8C270.2 575.9 272.6 577.5 273.1 578.7C273.6 579.8 272.4 581.1 271.2 581.5C269.9 582.0 267.3 581.9 265.4 581.5C263.5 581.2 261.7 579.9 259.6 579.6C257.5 579.3 255.1 579.5 252.9 579.6C250.6 579.8 248.1 580.3 246.2 580.6C244.2 580.9 242.5 580.7 241.3 581.5C240.2 582.3 240.2 584.6 239.4 585.4C238.6 586.2 237.5 587.1 236.5 586.3C235.6 585.5 234.0 582.3 233.7 580.6Z" fill="#aa60ee" stroke="#9250de" stroke-width="0.6"/></g>
<path d="M241 574.5Q255 570.5 268 577" stroke="#e8a0f0" stroke-width="1.8" fill="none" opacity="0.7" filter="url(#bl)"/>
</g>
<g filter="url(#bl)">
<path d="M366.9 572.3C366.8 570.9 369.2 568.8 370.8 566.9C372.4 565.1 374.5 562.8 376.5 561.2C378.6 559.5 380.7 557.5 383.3 556.9C385.8 556.3 388.9 557.3 391.9 557.7C395.0 558.1 398.5 558.7 401.5 559.2C404.6 559.7 407.6 560.1 410.2 560.8C412.8 561.4 415.2 561.9 416.9 563.1C418.7 564.3 420.3 566.3 420.8 567.9C421.2 569.5 420.6 571.1 419.8 572.7C419.0 574.3 417.7 576.1 416.0 577.5C414.2 578.9 411.6 580.3 409.2 581.3C406.8 582.4 404.1 583.5 401.5 583.8C399.0 584.2 396.4 583.8 393.8 583.3C391.3 582.8 388.7 581.6 386.2 580.8C383.6 579.9 380.9 578.9 378.5 578.1C376.1 577.2 373.7 576.5 371.7 575.6C369.8 574.6 367.1 573.8 366.9 572.3Z" fill="#e6d0f6" stroke="#9858da" stroke-width="0.9"/>
<g filter="url(#tx)"><path d="M368.5 572.3C368.6 571.0 370.4 568.8 371.9 566.9C373.4 565.1 375.3 562.7 377.3 561.2C379.3 559.6 381.2 557.9 383.8 557.5C386.4 557.1 389.8 558.1 392.9 558.7C396.0 559.2 399.6 560.0 402.5 561.0C405.4 561.9 408.2 562.9 410.2 564.2C412.1 565.5 413.6 567.2 414.2 568.8C414.9 570.4 414.7 572.2 414.0 573.8C413.3 575.4 411.9 577.2 410.0 578.5C408.1 579.7 405.2 580.8 402.5 581.3C399.8 581.9 396.7 582.1 393.8 581.9C391.0 581.7 387.9 580.7 385.2 580.0C382.5 579.3 379.8 578.3 377.5 577.5C375.2 576.7 372.9 575.9 371.3 575.0C369.8 574.1 368.4 573.7 368.5 572.3Z" fill="#a04ede"/></g>
</g>
</svg></body></html>
